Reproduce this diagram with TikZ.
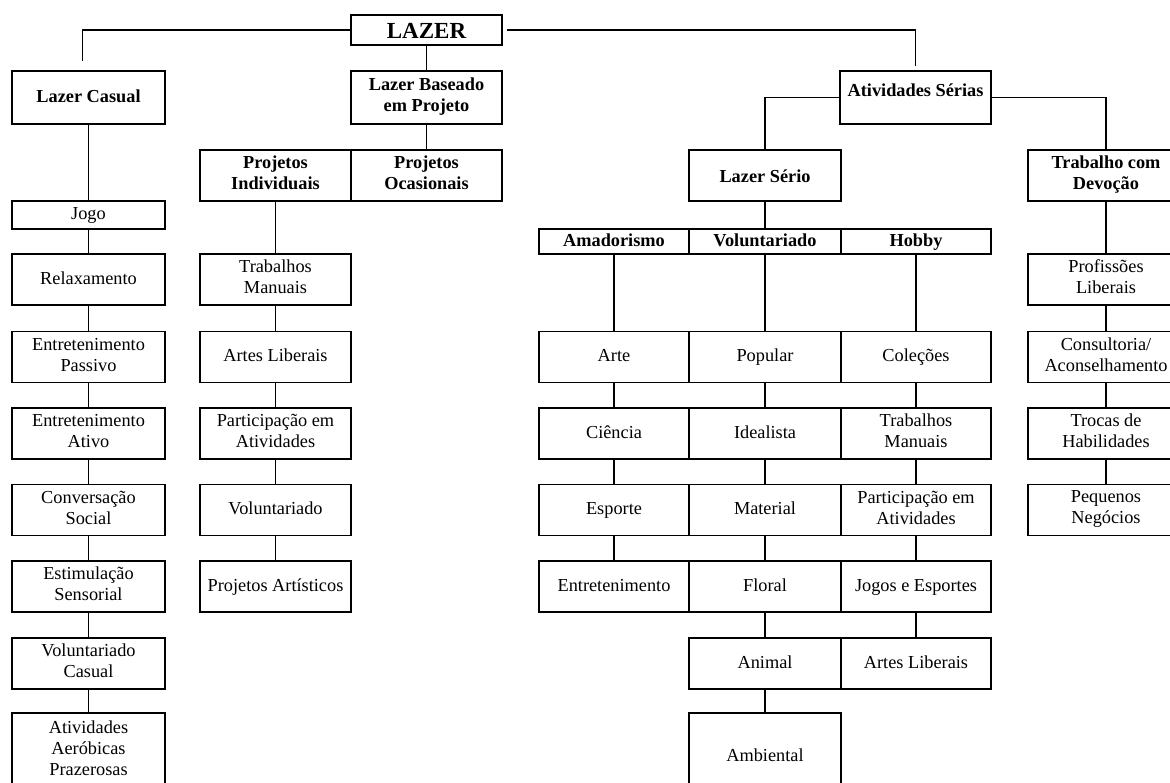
\documentclass[tikz,border=0pt]{standalone}
\usepackage{fontspec}
\setmainfont{Liberation Serif}
\usetikzlibrary{positioning}
\newcommand{\CellStrut}{\rule[-5pt]{0pt}{19pt}}

\begin{document}
\begin{tikzpicture}[
				x=1pt, y=-1pt,
				% boxes of the hierarchy
				box/.style={draw, line width=1.1pt, inner sep=0pt, align=center,
					minimum width=151pt, minimum height=51pt,
					execute at begin node=\CellStrut, execute at end node=\CellStrut,
					font=\fontsize{18.3}{21}\selectfont},
				hdr/.style={box, font=\fontsize{18.3}{21}\selectfont\bfseries},
				link/.style={line width=1.1pt}
				]
				\useasboundingbox (0,0) rectangle (1170,782);
				\pgfmathsetmacro{\CasualX}{88.5}
				\pgfmathsetmacro{\ProjX}{275.5}
				\pgfmathsetmacro{\AmaX}{614}
				\pgfmathsetmacro{\VolX}{765}
				\pgfmathsetmacro{\HobX}{916}
				\pgfmathsetmacro{\DevX}{1106}
				% top levels
				\node[hdr, minimum height=30pt, text height=17pt, text depth=0pt, font=\fontsize{23}{24}\selectfont\bfseries] (Lazer) at (426.5,30) {LAZER};
				\node[hdr, minimum width=153pt, minimum height=53pt] (Casual) at (\CasualX,97.5) {Lazer Casual};
				\node[hdr, minimum height=53pt] (Projeto) at (426.5,97.5) {Lazer Baseado\\em Projeto};
				\node[hdr, minimum height=53pt, text depth=17pt] (Serias) at (915.5,97.5) {Atividades Sérias};
				\node[hdr] (Individuais) at (\ProjX,175.5) {Projetos\\Individuais};
				\node[hdr] (Ocasionais) at (426.5,175.5) {Projetos\\Ocasionais};
				\node[hdr, minimum width=152pt, text depth=1pt] (Serio) at (\VolX,175.5) {Lazer Sério};
				\node[hdr, minimum width=156pt] (Devocao) at (\DevX,175.5) {Trabalho com\\Devoção};
				% lazer casual
				\node[box, minimum width=153pt, minimum height=28pt] (Jogo) at (\CasualX,215) {Jogo};
				\node[box, minimum width=153pt] (Relax) at (\CasualX,279.5) {Relaxamento};
				\node[box, minimum width=153pt] (Passivo) at (\CasualX,357) {Entretenimento\\Passivo};
				\node[box, minimum width=153pt] (Ativo) at (\CasualX,433.5) {Entretenimento\\Ativo};
				\node[box, minimum width=153pt] (Conversa) at (\CasualX,510) {Conversação\\Social};
				\node[box, minimum width=153pt] (Sensorial) at (\CasualX,586.5) {Estimulação\\Sensorial};
				\node[box, minimum width=153pt] (VolCasual) at (\CasualX,663.5) {Voluntariado\\Casual};
				\node[box, minimum width=153pt, minimum height=76pt] (Aerobicas) at (\CasualX,751) {Atividades\\Aeróbicas\\Prazerosas};
				% projetos
				\node[box] (ProjManuais) at (\ProjX,279.5) {Trabalhos\\Manuais};
				\node[box] (ProjArtes) at (\ProjX,357) {Artes Liberais};
				\node[box] (ProjPartic) at (\ProjX,433.5) {Participação em\\Atividades};
				\node[box] (ProjVolunt) at (\ProjX,510) {Voluntariado};
				\node[box] (ProjArtist) at (\ProjX,586.5) {Projetos Artísticos};
				% lazer serio
				\node[hdr, minimum width=150pt, minimum height=25pt] (Amador) at (\AmaX,241.5) {Amadorismo};
				\node[hdr, minimum width=152pt, minimum height=25pt] (Volunt) at (\VolX,241.5) {Voluntariado};
				\node[hdr, minimum width=150pt, minimum height=25pt] (Hobby) at (\HobX,241.5) {Hobby};
				\node[box, minimum width=150pt] (Arte) at (\AmaX,357) {Arte};
				\node[box, minimum width=150pt] (Ciencia) at (\AmaX,433.5) {Ciência};
				\node[box, minimum width=150pt] (Esporte) at (\AmaX,510) {Esporte};
				\node[box, minimum width=150pt] (Entret) at (\AmaX,586.5) {Entretenimento};
				\node[box, minimum width=152pt] (Popular) at (\VolX,357) {Popular};
				\node[box, minimum width=152pt] (Idealista) at (\VolX,433.5) {Idealista};
				\node[box, minimum width=152pt] (Material) at (\VolX,510) {Material};
				\node[box, minimum width=152pt] (Floral) at (\VolX,586.5) {Floral};
				\node[box, minimum width=152pt] (Animal) at (\VolX,663.5) {Animal};
				\node[box, minimum width=152pt, minimum height=88pt] (Ambiental) at (\VolX,757) {Ambiental};
				\node[box, minimum width=150pt] (Colecoes) at (\HobX,357) {Coleções};
				\node[box, minimum width=150pt] (HobManuais) at (\HobX,433.5) {Trabalhos\\Manuais};
				\node[box, minimum width=150pt] (HobPartic) at (\HobX,510) {Participação em\\Atividades};
				\node[box, minimum width=150pt] (Jogos) at (\HobX,586.5) {Jogos e Esportes};
				\node[box, minimum width=150pt] (HobArtes) at (\HobX,663.5) {Artes Liberais};
				% trabalho com devocao
				\node[box, minimum width=156pt] (Profis) at (\DevX,279.5) {Profissões\\Liberais};
				\node[box, minimum width=156pt] (Consult) at (\DevX,357) {Consultoria/\\Aconselhamento};
				\node[box, minimum width=156pt] (Trocas) at (\DevX,433.5) {Trocas de\\Habilidades};
				\node[box, minimum width=156pt] (Pequenos) at (\DevX,510) {Pequenos\\Negócios};
				% connectors
				\draw[link, shorten >=9pt] (Lazer.west) -| ([xshift=-6pt]Casual.north);
				\draw[link] (Lazer) -- (Projeto);
				\draw[link, shorten <=4pt, shorten >=4pt] (Lazer.east) -| (Serias.north);
				\draw[link] (Projeto) -- (Ocasionais);
				\draw[link] (Individuais) -- (ProjManuais);
				\draw[link] (Serias.west) -| (Serio.north);
				\draw[link] (Serias.east) -| (Devocao.north);
				\draw[link] (Serio) -- (Volunt);
				\draw[link] (Casual) -- (Jogo) -- (Relax) -- (Passivo) -- (Ativo) -- (Conversa) -- (Sensorial) -- (VolCasual) -- (Aerobicas);
				\draw[link] (ProjManuais) -- (ProjArtes) -- (ProjPartic) -- (ProjVolunt) -- (ProjArtist);
				\draw[link] (Amador) -- (Arte) -- (Ciencia) -- (Esporte) -- (Entret);
				\draw[link] (Volunt) -- (Popular) -- (Idealista) -- (Material) -- (Floral) -- (Animal) -- (Ambiental);
				\draw[link] (Hobby) -- (Colecoes) -- (HobManuais) -- (HobPartic) -- (Jogos) -- (HobArtes);
				\draw[link] (Devocao) -- (Profis) -- (Consult) -- (Trocas) -- (Pequenos);
			\end{tikzpicture}
\end{document}
